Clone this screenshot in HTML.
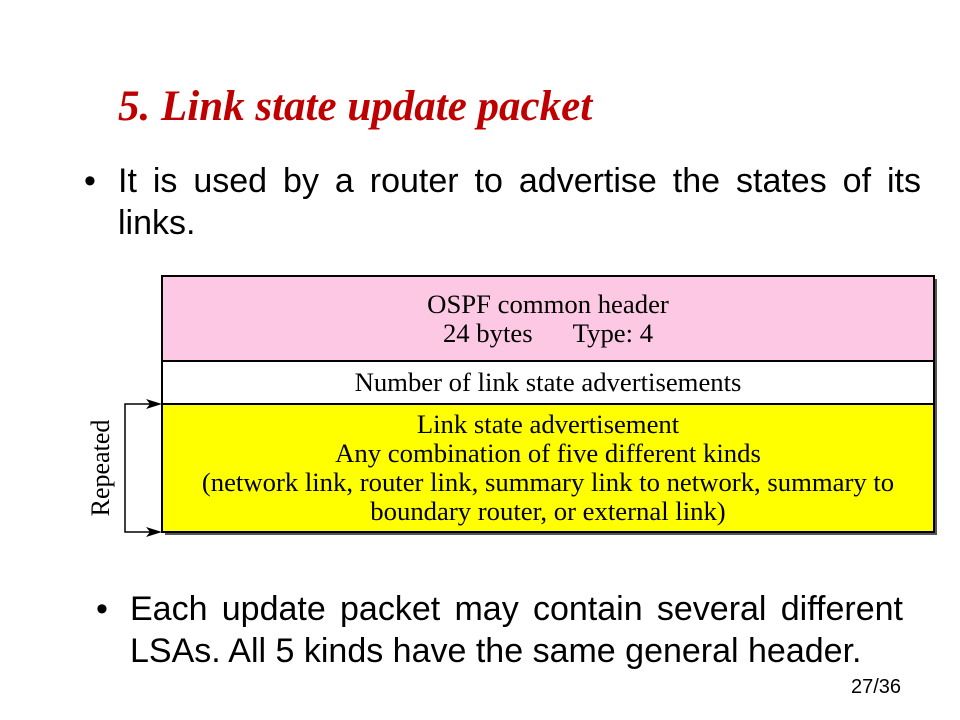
<!DOCTYPE html>
<html><head><meta charset="utf-8"><style>
body{margin:0;width:960px;height:720px;background:#fff;position:relative;overflow:hidden;font-family:"Liberation Sans",sans-serif}
.t{position:absolute;left:118px;top:82px;font-family:"Liberation Serif",serif;font-style:italic;font-weight:bold;color:#c00000;font-size:43px}
.b{position:absolute;font-size:34px;color:#000;line-height:42px;white-space:nowrap}
.j{text-align:justify;text-align-last:justify;white-space:normal}
.d{position:absolute;font-family:"Liberation Serif",serif;font-size:26.7px;text-align:center;line-height:29px;white-space:nowrap}
</style></head><body>
<div class="t">5. Link state update packet</div>
<div class="b" style="left:84px;top:160px">•</div>
<div class="b j" style="left:118px;top:160px;width:803px">It is used by a router to advertise the states of its</div>
<div class="b" style="left:118px;top:202px">links.</div>

<svg width="960" height="720" style="position:absolute;left:0;top:0">
<rect x="165" y="279" width="772" height="256" fill="#555"/>
<rect x="162" y="276" width="772" height="85" fill="#fcc8e4" stroke="#000" stroke-width="2"/>
<rect x="162" y="361" width="772" height="43" fill="#fff" stroke="#000" stroke-width="2"/>
<rect x="162" y="404" width="772" height="128" fill="#ffff00" stroke="#000" stroke-width="2"/>
<polyline points="158,404 125,404 125,532 158,532" fill="none" stroke="#000" stroke-width="1.5"/>
<polygon points="162,404 146,399 150,404 146,409" fill="#000"/>
<polygon points="162,532 146,527 150,532 146,537" fill="#000"/>
<text x="0" y="0" transform="translate(109,468) rotate(-90)" text-anchor="middle" font-family="Liberation Serif" font-size="26">Repeated</text>
</svg>
<div class="d" style="left:162px;top:290px;width:772px">OSPF common header<br>24 bytes&nbsp;&nbsp;&nbsp;&nbsp;&nbsp;&nbsp;Type: 4</div>
<div class="d" style="left:162px;top:368px;width:772px">Number of link state advertisements</div>
<div class="d" style="left:162px;top:410px;width:772px">Link state advertisement<br>Any combination of five different kinds<br>(network link, router link, summary link to network, summary to<br>boundary router, or external link)</div>

<div class="b" style="left:96px;top:588px">•</div>
<div class="b j" style="left:130px;top:588px;width:773px">Each update packet may contain several different</div>
<div class="b" style="left:130px;top:630px">LSAs. All 5 kinds have the same general header.</div>
<div style="position:absolute;left:851px;top:676px;font-size:20px">27/36</div>
</body></html>
